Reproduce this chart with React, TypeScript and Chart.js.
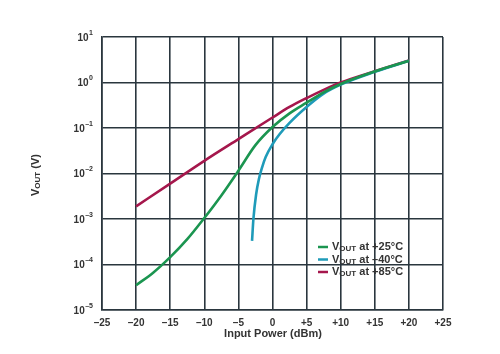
import React, { useEffect, useRef } from "react";
import { Chart, registerables } from "chart.js";

Chart.register(...registerables);

const xTicks = [-25, -20, -15, -10, -5, 0, 5, 10, 15, 20, 25];
const yDecades = [1e-5, 1e-4, 1e-3, 1e-2, 1e-1, 1, 10];
const yExponents = ["-5", "-4", "-3", "-2", "-1", "0", "1"];

const power25 = [-20, -17.5, -15, -12.5, -10, -7.5, -5, -2.5, 0, 2.5, 5, 7.5, 10, 15, 20];
const vout25 = [3.5e-5, 6.6e-5, 1.45e-4, 3.6e-4, 1.05e-3, 3.3e-3, 0.0115, 0.042, 0.105, 0.21, 0.36, 0.61, 0.93, 1.75, 3.0];

const powerM40 = [-3, -2.8, -2.4, -2, -1.5, -1, 0, 1, 2.5, 5, 7.5, 10, 15, 20];
const voutM40 = [3.3e-4, 1e-3, 3.5e-3, 7.5e-3, 0.014, 0.023, 0.044, 0.072, 0.13, 0.29, 0.57, 0.9, 1.72, 3.0];

const power85 = [-20, -15, -10, -5, 0, 2.5, 5, 7.5, 10, 15, 20];
const vout85 = [1.9e-3, 6e-3, 0.019, 0.057, 0.17, 0.29, 0.455, 0.69, 1.0, 1.77, 3.05];

const seriesNames = ["+25°C", "–40°C", "+85°C"];
const seriesColors = ["#1b9550", "#1f9bb9", "#a5174c"];

const FONT = "'Liberation Sans', Arial, sans-serif";
const GRID = "#2a363e";
const TEXT = "#333333";

function fmtX(v: number) {
  if (v > 0) return "+" + v;
  if (v < 0) return "–" + Math.abs(v);
  return "0";
}

function drawVout(ctx: CanvasRenderingContext2D, x: number, y: number, big: number, small: number, rest: string) {
  ctx.font = `bold ${big}px ${FONT}`;
  ctx.fillText("V", x, y);
  let w = ctx.measureText("V").width;
  ctx.font = `bold ${small}px ${FONT}`;
  ctx.fillText("OUT", x + w, y + 2);
  w += ctx.measureText("OUT").width;
  ctx.font = `bold ${big}px ${FONT}`;
  ctx.fillText(rest, x + w, y);
  w += ctx.measureText(rest).width;
  return w;
}

const overlay = {
  id: "overlay",
  afterDraw(chart: any) {
    const ctx = chart.ctx as CanvasRenderingContext2D;
    ctx.save();
    ctx.fillStyle = TEXT;
    ctx.textBaseline = "middle";
    // y tick labels: 10 with superscript exponent
    const ys = chart.scales.y;
    yDecades.forEach((v, i) => {
      const py = ys.getPixelForValue(v);
      const exp = yExponents[i].replace("-", "–");
      ctx.font = `bold 7px ${FONT}`;
      const we = ctx.measureText(exp).width;
      ctx.textAlign = "left";
      const right = 93;
      ctx.fillText(exp, right - we, py - 4);
      ctx.font = `bold 10px ${FONT}`;
      ctx.textAlign = "right";
      ctx.fillText("10", right - we - 0.5, py + 1);
    });
    // legend
    const lx = 318;
    const rows = [247, 259.5, 272];
    rows.forEach((ry, i) => {
      ctx.strokeStyle = seriesColors[i];
      ctx.lineWidth = 2.5;
      ctx.beginPath();
      ctx.moveTo(lx, ry);
      ctx.lineTo(lx + 10, ry);
      ctx.stroke();
      ctx.textAlign = "left";
      drawVout(ctx, lx + 14, ry, 11, 8, " at " + seriesNames[i]);
    });
    // x title
    ctx.font = `bold 11px ${FONT}`;
    ctx.textAlign = "center";
    ctx.fillText("Input Power (dBm)", 273, 334);
    // y title
    ctx.translate(36, 175);
    ctx.rotate(-Math.PI / 2);
    ctx.textAlign = "left";
    ctx.font = `bold 11px ${FONT}`;
    const w1 = ctx.measureText("V").width;
    ctx.font = `bold 8px ${FONT}`;
    const w2 = ctx.measureText("OUT").width;
    ctx.font = `bold 11px ${FONT}`;
    const w3 = ctx.measureText(" (V)").width;
    drawVout(ctx, -(w1 + w2 + w3) / 2, 0, 11, 8, " (V)");
    ctx.restore();
  },
};

export default function App() {
  const ref = useRef<HTMLCanvasElement>(null);
  useEffect(() => {
    if (!ref.current) return;
    const mk = (xs: number[], ys: number[]) => xs.map((x, i) => ({ x, y: ys[i] }));
    const chart = new Chart(ref.current, {
      type: "line",
      data: {
        datasets: [
          { label: seriesNames[0], data: mk(power25, vout25), borderColor: seriesColors[0] },
          { label: seriesNames[1], data: mk(powerM40, voutM40), borderColor: seriesColors[1] },
          { label: seriesNames[2], data: mk(power85, vout85), borderColor: seriesColors[2] },
        ].map((d) => ({ ...d, borderWidth: 2.6, pointRadius: 0, fill: false, cubicInterpolationMode: "monotone" as const })),
      },
      options: {
        responsive: false,
        animation: false,
        layout: { padding: { top: 37, right: 57, left: 0, bottom: 0 } },
        plugins: { legend: { display: false }, tooltip: { enabled: false } },
        scales: {
          x: {
            type: "linear",
            min: -25,
            max: 25,
            afterBuildTicks: (s: any) => {
              s.ticks = xTicks.map((v) => ({ value: v }));
            },
            afterFit: (s: any) => {
              s.height = 44;
            },
            ticks: {
              callback: (v: any) => fmtX(Number(v)),
              font: { family: FONT, size: 10, weight: "bold" },
              color: TEXT,
              padding: 7,
              maxRotation: 0,
              autoSkip: false,
            },
            grid: { color: GRID, lineWidth: 1.6, drawTicks: false },
            border: { color: GRID, width: 1.6 },
          },
          y: {
            type: "logarithmic",
            min: 1e-5,
            max: 10,
            afterBuildTicks: (s: any) => {
              s.ticks = yDecades.map((v) => ({ value: v }));
            },
            afterFit: (s: any) => {
              s.width = 102;
            },
            ticks: { display: false },
            grid: { color: GRID, lineWidth: 1.6, drawTicks: false },
            border: { color: GRID, width: 1.6 },
          },
        },
      },
      plugins: [overlay],
    } as any);
    return () => chart.destroy();
  }, []);
  return (
    <div style={{ position: "fixed", left: 0, top: 0, width: 500, height: 354, background: "#fff" }}>
      <canvas ref={ref} width={500} height={354} />
    </div>
  );
}
